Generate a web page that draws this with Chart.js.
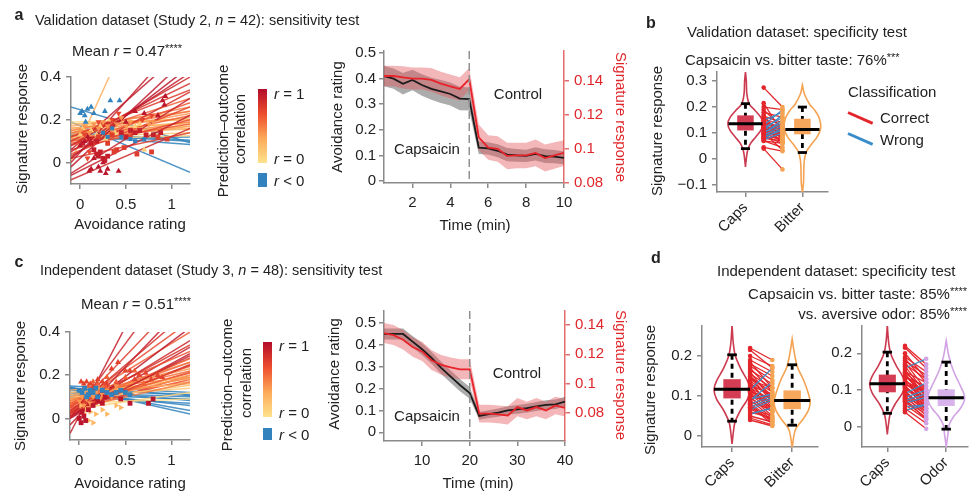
<!DOCTYPE html>
<html>
<head>
<meta charset="utf-8">
<script src="https://cdn.jsdelivr.net/npm/chart.js@4.4.1/dist/chart.umd.min.js"></script>
<style>
body { margin: 0; background: #fff; }
#fig { position: relative; width: 972px; height: 493px; overflow: hidden; font-family: 'Liberation Sans', Arial, sans-serif; color: #222; }
#fig canvas { position: absolute; left: 0; top: 0; }
.t { position: absolute; white-space: nowrap; font-size: 15px; line-height: 1; transform: translateY(-50%); }
.h { font-size: 14.5px; }
.c { transform: translate(-50%, -50%); }
.vl { transform: translate(-50%, -50%) rotate(-90deg); }
.vr { transform: translate(-50%, -50%) rotate(90deg); }
.rt { transform: translate(-100%, -50%); }
.lbl { font-weight: bold; font-size: 16px; }
.red { color: #e0262a; }
sup { font-size: 11px; vertical-align: 4px; line-height: 0; }
.bar { position: absolute; width: 9px; }
.leg { position: absolute; height: 3px; width: 27px; transform-origin: 0 50%; }
</style>
</head>
<body>
<div id="fig">
  <canvas id="aScatter" width="972" height="493"></canvas>
  <canvas id="aTime" width="972" height="493"></canvas>
  <canvas id="bViolin" width="972" height="493"></canvas>
  <canvas id="cScatter" width="972" height="493"></canvas>
  <canvas id="cTime" width="972" height="493"></canvas>
  <canvas id="dLeft" width="972" height="493"></canvas>
  <canvas id="dRight" width="972" height="493"></canvas>

  <!-- panel a -->
  <div class="t c lbl" style="left:19px;top:15px">a</div>
  <div class="t h" style="left:35px;top:20px">Validation dataset (Study 2, <i>n</i> = 42): sensitivity test</div>
  <div class="t" style="left:72px;top:50px">Mean <i>r</i> = 0.47<sup>****</sup></div>
  <div class="t vl" style="left:21px;top:129px">Signature response</div>
  <div class="t c" style="left:130px;top:223px">Avoidance rating</div>
  <div class="t vl" style="left:222px;top:131px">Prediction–outcome</div>
  <div class="t vl" style="left:239px;top:129px">correlation</div>
  <div class="bar" id="aBar" style="left:258px;top:89px;height:74px"></div>
  <div class="bar" style="left:258px;top:173px;height:14px;background:#3182bd"></div>
  <div class="t" style="left:274px;top:93px"><i>r</i> = 1</div>
  <div class="t" style="left:274px;top:158px"><i>r</i> = 0</div>
  <div class="t" style="left:274px;top:180px"><i>r</i> &lt; 0</div>
  <div class="t vl" style="left:336px;top:117px">Avoidance rating</div>
  <div class="t vr red" style="left:621px;top:117px">Signature response</div>
  <div class="t c" style="left:518px;top:93px">Control</div>
  <div class="t c" style="left:427px;top:148px">Capsaicin</div>
  <div class="t c" style="left:475px;top:224px">Time (min)</div>

  <!-- panel b -->
  <div class="t c lbl" style="left:651px;top:23px">b</div>
  <div class="t" style="left:687px;top:31px">Validation dataset: specificity test</div>
  <div class="t" style="left:685px;top:59px">Capsaicin vs. bitter taste: 76%<sup>***</sup></div>
  <div class="t vl" style="left:656px;top:131px">Signature response</div>
  <div class="t" style="left:848px;top:91px">Classification</div>
  <div class="leg" style="left:848px;top:111px;background:#e3262c;transform:rotate(24deg)"></div>
  <div class="t" style="left:880px;top:117px">Correct</div>
  <div class="leg" style="left:848px;top:132px;background:#3a8dc9;transform:rotate(24deg)"></div>
  <div class="t" style="left:880px;top:139px">Wrong</div>

  <!-- panel c -->
  <div class="t c lbl" style="left:19px;top:262px">c</div>
  <div class="t h" style="left:40px;top:270px">Independent dataset (Study 3, <i>n</i> = 48): sensitivity test</div>
  <div class="t" style="left:81px;top:303px">Mean <i>r</i> = 0.51<sup>****</sup></div>
  <div class="t vl" style="left:19px;top:386px">Signature response</div>
  <div class="t c" style="left:130px;top:482px">Avoidance rating</div>
  <div class="t vl" style="left:226px;top:385px">Prediction–outcome</div>
  <div class="t vl" style="left:245px;top:383px">correlation</div>
  <div class="bar" id="cBar" style="left:263px;top:342px;height:75px"></div>
  <div class="bar" style="left:263px;top:428px;height:12px;background:#3182bd"></div>
  <div class="t" style="left:279px;top:345px"><i>r</i> = 1</div>
  <div class="t" style="left:279px;top:412px"><i>r</i> = 0</div>
  <div class="t" style="left:279px;top:434px"><i>r</i> &lt; 0</div>
  <div class="t vl" style="left:333px;top:374px">Avoidance rating</div>
  <div class="t vr red" style="left:621px;top:375px">Signature response</div>
  <div class="t c" style="left:517px;top:372px">Control</div>
  <div class="t c" style="left:427px;top:415px">Capsaicin</div>
  <div class="t c" style="left:478px;top:482px">Time (min)</div>

  <!-- panel d -->
  <div class="t c lbl" style="left:656px;top:258px">d</div>
  <div class="t" style="left:717px;top:270px">Independent dataset: specificity test</div>
  <div class="t rt" style="left:967px;top:293px">Capsaicin vs. bitter taste: 85%<sup>****</sup></div>
  <div class="t rt" style="left:967px;top:313px">vs. aversive odor: 85%<sup>****</sup></div>
  <div class="t vl" style="left:649px;top:390px">Signature response</div>
</div>

<script>
// ==========================================
// DATA
// ==========================================
// a / c: regression line per subject, value at x = -0.1 and at x = 1.2, and the subject's r
const aLineStart = [0.02, 0.05, 0.08, -0.02, 0.10, -0.05, 0.0, 0.12, -0.08, -0.06, 0.04, 0.08, 0.03, 0.06,
  0.12, 0.14, 0.06, 0.10, 0.15, 0.09, 0.02, 0.11,
  0.13, 0.16, 0.10, 0.14, 0.17, 0.12, 0.18, 0.15,
  0.005, 0.14, 0.16, 0.12, 0.19, 0.11,
  0.26, 0.19, 0.13, 0.11, 0.125, 0.14];
const aLineEnd = [0.45, 0.42, 0.40, 0.50, 0.37, 0.30, 0.62, 0.34, 0.16, 0.22, 0.26, 0.28, 0.33, 0.55,
  0.30, 0.24, 0.20, 0.22, 0.26, 0.18, 0.14, 0.19,
  0.23, 0.21, 0.17, 0.19, 0.24, 0.16, 0.20, 0.155,
  1.24, 0.17, 0.18, 0.14, 0.20, 0.125,
  0.093, -0.045, 0.10, 0.12, 0.085, 0.105];
const aLineR = [0.95, 0.9, 0.85, 0.92, 0.8, 0.88, 0.9, 0.75, 0.85, 0.9, 0.7, 0.65, 0.82, 0.93,
  0.6, 0.55, 0.7, 0.6, 0.5, 0.62, 0.75, 0.45,
  0.4, 0.35, 0.38, 0.3, 0.32, 0.28, 0.25, 0.2,
  0.3, 0.1, 0.08, 0.12, 0.05, 0.1,
  -0.3, -0.4, -0.1, -0.05, -0.15, -0.1];

const cLineStart = [-0.07, 0.0, 0.02, -0.03, 0.03, 0.05, 0.0, 0.06,
  0.02, 0.04, 0.07, 0.01, 0.06, 0.08, 0.03, 0.1, 0.05, 0.09,
  0.07, 0.11, 0.04, 0.12, 0.08, 0.1, 0.06, 0.02, 0.09, 0.05,
  0.13, 0.04, 0.07, 0.0, 0.03, 0.08, 0.01, 0.06, 0.03, 0.09,
  0.15, 0.14, 0.13, 0.12, 0.135, 0.145, 0.12, 0.11, 0.1, 0.14];
const cLineEnd = [1.0, 0.75, 0.6, 0.55, 0.5, 0.45, 0.42, 0.40,
  0.36, 0.34, 0.31, 0.29, 0.276, 0.26, 0.245, 0.23, 0.215, 0.2,
  0.19, 0.184, 0.168, 0.16, 0.153, 0.14, 0.21, 0.25, 0.22, 0.18,
  0.19, 0.12, 0.09, 0.3, 0.28, 0.24, 0.33, 0.26, 0.2, 0.17,
  0.12, 0.106, 0.083, 0.06, 0.037, 0.02, 0.1, 0.09, 0.07, 0.11];
const cLineR = [0.9, 0.85, 0.75, 0.9, 0.8, 0.7, 0.95, 0.6,
  0.85, 0.8, 0.65, 0.9, 0.55, 0.5, 0.75, 0.4, 0.6, 0.35,
  0.45, 0.3, 0.5, 0.25, 0.2, 0.15, 0.7, 0.85, 0.55, 0.65,
  0.35, 0.1, 0.05, 0.92, 0.8, 0.5, 0.88, 0.6, 0.7, 0.4,
  -0.1, -0.15, -0.2, -0.25, -0.35, -0.4, -0.1, -0.05, -0.2, -0.1];

// a / c: single trials [avoidance rating, signature response]
const aBlueTri = [[0.0, 0.23], [0.02, 0.24], [0.05, 0.22], [0.08, 0.25], [0.12, 0.26], [0.15, 0.23], [0.27, 0.24], [0.33, 0.29], [0.43, 0.29], [0.06, 0.19]];
const aBlueSq = [[0.25, 0.14], [0.3, 0.12], [0.45, 0.12], [0.55, 0.11], [0.6, 0.1], [0.35, 0.16], [0.7, 0.11]];
const aDarkTri = [[0.1, -0.04], [0.12, -0.03], [0.2, -0.02], [0.22, -0.04], [0.28, -0.05], [0.3, -0.03], [0.42, -0.04], [0.15, 0.02], [0.25, 0.0], [0.05, 0.1], [0.0, 0.08], [0.08, 0.12], [0.5, 0.19], [0.6, 0.24], [0.7, 0.23], [0.85, 0.22], [0.92, 0.27], [0.93, 0.31], [0.9, 0.29]];
const aDarkSq = [[0.15, 0.06], [0.18, 0.04], [0.2, 0.03], [0.22, 0.05], [0.25, 0.02], [0.27, 0.01], [0.3, 0.03], [0.12, 0.09], [0.18, 0.1], [0.55, 0.15], [0.6, 0.14], [0.65, 0.15], [0.72, 0.13], [0.8, 0.13], [0.88, 0.14], [0.5, 0.12], [0.45, 0.14], [0.1, 0.11], [0.03, 0.09]];
const aRedSq = [[0.37, 0.05], [0.4, 0.06], [0.48, 0.07], [0.62, 0.04], [0.78, 0.05], [0.3, 0.09], [0.2, 0.12], [0.35, 0.13], [0.85, 0.12], [0.95, 0.11]];
const aOrangeTri = [[0.0, 0.15], [0.05, 0.17], [0.1, 0.14], [0.15, 0.18], [0.2, 0.16], [0.25, 0.19], [0.3, 0.17], [0.35, 0.15], [0.4, 0.18], [0.5, 0.17], [0.55, 0.19], [0.65, 0.16], [0.75, 0.18], [0.8, 0.19], [0.45, 0.21]];
const aYellowTri = [[0.0, 0.13], [0.03, 0.16], [0.07, 0.12], [0.12, 0.15], [0.18, 0.13], [0.22, 0.17], [0.28, 0.11], [0.32, 0.2], [0.38, 0.14], [0.6, 0.17], [0.7, 0.06], [0.65, 0.18], [0.1, 0.18]];
const aRedTri = [[0.05, 0.13], [0.2, 0.19], [0.35, 0.2], [0.42, 0.23], [0.55, 0.12], [0.68, 0.2], [0.78, 0.22], [0.15, 0.09], [0.1, 0.05], [0.08, 0.02]];

const cBlueSq = [[0.0, 0.13], [0.03, 0.12], [0.06, 0.14], [0.1, 0.11], [0.12, 0.13], [0.15, 0.12], [0.2, 0.1], [0.25, 0.13], [0.3, 0.12], [0.35, 0.11], [0.4, 0.12], [0.45, 0.13], [0.5, 0.12], [0.55, 0.11], [0.08, 0.1], [0.18, 0.14]];
const cRedTri = [[0.02, 0.17], [0.05, 0.16], [0.08, 0.17], [0.12, 0.16], [0.15, 0.15], [0.2, 0.18], [0.25, 0.17], [0.3, 0.16], [0.35, 0.23], [0.42, 0.26], [0.5, 0.22], [0.55, 0.22], [0.65, 0.2], [0.78, 0.18], [0.85, 0.2], [0.9, 0.19], [0.72, 0.21], [0.6, 0.18]];
const cDarkSq = [[0.0, 0.0], [0.02, -0.02], [0.05, 0.01], [0.03, 0.03], [0.07, -0.01], [0.1, 0.04], [0.15, 0.06], [0.2, 0.08], [0.25, 0.07], [0.28, 0.1], [0.45, 0.09], [0.55, 0.07], [0.8, 0.09], [0.75, 0.07]];
const cOrangeTri = [[0.0, 0.08], [0.03, 0.1], [0.05, 0.06], [0.08, 0.09], [0.1, 0.12], [0.12, 0.07], [0.15, 0.1], [0.18, 0.12], [0.22, 0.09], [0.25, 0.11], [0.3, 0.13], [0.35, 0.1], [0.4, 0.15], [0.2, 0.14], [0.1, 0.05]];
const cYellowTri = [[0.05, 0.02], [0.08, 0.04], [0.1, -0.01], [0.15, -0.02], [0.18, 0.02], [0.12, 0.03], [0.25, 0.04], [0.3, 0.02], [0.4, 0.06], [0.45, 0.05], [0.02, 0.06]];
const cRedOrange = [[0.05, 0.14], [0.1, 0.15], [0.15, 0.17], [0.2, 0.16], [0.3, 0.19], [0.28, 0.15], [0.4, 0.17], [0.5, 0.19], [0.6, 0.22], [0.7, 0.16]];

const scatterTicksX = [0, 0.5, 1];
const scatterTicksY = [0, 0.2, 0.4];

// a / c: time courses
const aTime = [0.5, 1, 1.5, 2, 2.5, 3, 3.5, 4, 4.5, 5, 5.5, 6, 6.5, 7, 7.5, 8, 8.5, 9, 9.5, 10];
const aAvoid = [0.41, 0.40, 0.38, 0.395, 0.375, 0.36, 0.35, 0.34, 0.322, 0.32, 0.13, 0.127, 0.118, 0.103, 0.10, 0.098, 0.106, 0.097, 0.095, 0.09];
const aAvoidSe = [0.04, 0.04, 0.042, 0.04, 0.042, 0.043, 0.045, 0.045, 0.046, 0.045, 0.025, 0.024, 0.025, 0.026, 0.025, 0.024, 0.026, 0.027, 0.026, 0.025];
const aSig = [0.1429, 0.1429, 0.1421, 0.1414, 0.1414, 0.1406, 0.1384, 0.1368, 0.1353, 0.1411, 0.1069, 0.1008, 0.1000, 0.0959, 0.0962, 0.0962, 0.0977, 0.0947, 0.0962, 0.0977];
const aSigSe = [0.006, 0.006, 0.0065, 0.0065, 0.0065, 0.007, 0.007, 0.007, 0.0068, 0.0065, 0.0075, 0.0072, 0.0075, 0.0078, 0.0075, 0.0075, 0.0078, 0.008, 0.0078, 0.0075];
const aSwitch = 5;

const cTime = [2, 4, 6, 8, 10, 12, 14, 16, 18, 20, 22, 24, 26, 28, 30, 32, 34, 36, 38, 40];
const cAvoid = [0.45, 0.45, 0.45, 0.415, 0.38, 0.34, 0.295, 0.255, 0.215, 0.18, 0.075, 0.083, 0.09, 0.1, 0.105, 0.11, 0.118, 0.125, 0.128, 0.14];
const cAvoidSe = [0.025, 0.025, 0.025, 0.026, 0.027, 0.027, 0.028, 0.028, 0.028, 0.027, 0.018, 0.018, 0.019, 0.019, 0.02, 0.02, 0.021, 0.021, 0.022, 0.022];
const cSig = [0.1345, 0.1331, 0.1299, 0.1250, 0.1220, 0.1160, 0.1128, 0.1111, 0.1098, 0.1098, 0.0796, 0.0796, 0.0791, 0.0784, 0.0841, 0.0818, 0.0841, 0.0818, 0.0852, 0.0836];
const cSigSe = [0.0068, 0.0068, 0.0066, 0.0066, 0.0066, 0.0067, 0.0067, 0.0068, 0.0068, 0.0068, 0.006, 0.006, 0.006, 0.0062, 0.0062, 0.006, 0.0062, 0.006, 0.006, 0.006];
const cSwitch = 20;

// b / d: per-subject signature responses
const bCaps = [0.275, 0.215, 0.2, 0.19, 0.18, 0.17, 0.165, 0.16, 0.155, 0.15, 0.145, 0.14, 0.14, 0.135, 0.13, 0.13, 0.125, 0.12, 0.12, 0.115, 0.11, 0.105, 0.1, 0.1, 0.095, 0.09, 0.085, 0.08, 0.07, 0.07, 0.045, 0.04, 0.13, 0.11, 0.1, 0.12, 0.09, 0.08, 0.1, 0.075, 0.15, 0.085];
const bBitter = [0.2, 0.1, 0.19, 0.12, 0.16, 0.07, 0.14, 0.1, 0.13, 0.09, 0.12, 0.06, 0.11, 0.125, 0.1, 0.08, 0.115, 0.1, 0.065, 0.11, 0.095, 0.085, 0.07, 0.035, 0.09, 0.06, 0.08, 0.07, 0.06, 0.045, 0.03, -0.04, 0.19, 0.17, 0.15, 0.16, 0.13, 0.12, 0.14, 0.1, 0.18, 0.11];

const dCaps = [0.22, 0.215, 0.2, 0.19, 0.185, 0.18, 0.175, 0.17, 0.165, 0.16, 0.155, 0.15, 0.148, 0.145, 0.14, 0.138, 0.135, 0.13, 0.128, 0.125, 0.122, 0.12, 0.118, 0.115, 0.112, 0.11, 0.108, 0.105, 0.1, 0.098, 0.095, 0.092, 0.09, 0.088, 0.085, 0.082, 0.08, 0.078, 0.075, 0.072, 0.07, 0.068, 0.065, 0.06, 0.055, 0.05, 0.045, 0.04];
const dBitter = [0.19, 0.17, 0.175, 0.16, 0.12, 0.15, 0.14, 0.11, 0.13, 0.09, 0.12, 0.1, 0.085, 0.11, 0.12, 0.095, 0.07, 0.1, 0.08, 0.105, 0.065, 0.09, 0.06, 0.17, 0.08, 0.095, 0.07, 0.06, 0.085, 0.05, 0.06, 0.105, 0.045, 0.135, 0.065, 0.04, 0.1, 0.035, 0.03, 0.095, 0.05, 0.04, 0.09, 0.045, 0.07, 0.035, 0.028, 0.025];
const dOdor = [0.17, 0.16, 0.13, 0.15, 0.12, 0.14, 0.1, 0.13, 0.09, 0.185, 0.08, 0.12, 0.1, 0.07, 0.09, 0.085, 0.11, 0.06, 0.075, 0.09, 0.1, 0.07, 0.08, 0.095, 0.05, 0.065, 0.07, 0.06, 0.08, 0.045, 0.05, 0.04, 0.12, 0.06, 0.03, 0.05, 0.1, 0.04, 0.02, 0.09, 0.035, 0.025, 0.08, 0.02, 0.06, 0.01, 0.06, -0.005];

// violin densities (half width, in category units) and box stats [lo, q1, median, q3, hi]
const bCapsVioY = [-0.03, 0.01, 0.035, 0.06, 0.085, 0.11, 0.136, 0.16, 0.187, 0.21, 0.25, 0.3, 0.335];
const bCapsVioW = [0, 0.02, 0.04, 0.09, 0.18, 0.27, 0.31, 0.27, 0.17, 0.07, 0.025, 0.015, 0];
const bCapsBox = [0.04, 0.11, 0.136, 0.168, 0.213];
const bBitterVioY = [-0.13, -0.09, -0.04, -0.004, 0.028, 0.054, 0.085, 0.117, 0.155, 0.187, 0.21, 0.25, 0.285];
const bBitterVioW = [0, 0.02, 0.025, 0.035, 0.07, 0.15, 0.26, 0.32, 0.3, 0.22, 0.13, 0.035, 0];
const bBitterBox = [0.025, 0.095, 0.114, 0.155, 0.2];

const dCapsVioY = [-0.02, 0.01, 0.035, 0.064, 0.093, 0.117, 0.14, 0.164, 0.198, 0.23, 0.277];
const dCapsVioW = [0, 0.022, 0.05, 0.14, 0.26, 0.3, 0.25, 0.16, 0.06, 0.022, 0];
const dCapsBox = [0.037, 0.094, 0.117, 0.142, 0.203];
const dBitterVioY = [-0.03, -0.003, 0.018, 0.04, 0.064, 0.085, 0.106, 0.14, 0.172, 0.206, 0.243];
const dBitterVioW = [0, 0.025, 0.06, 0.17, 0.27, 0.3, 0.27, 0.19, 0.09, 0.038, 0];
const dBitterBox = [0.027, 0.067, 0.089, 0.114, 0.178];
const dOdorVioY = [-0.054, -0.018, 0.005, 0.027, 0.05, 0.072, 0.09, 0.122, 0.153, 0.19, 0.234];
const dOdorVioW = [0, 0.03, 0.05, 0.12, 0.24, 0.31, 0.3, 0.21, 0.12, 0.048, 0];
const dOdorBox = [-0.006, 0.057, 0.079, 0.102, 0.176];

const bTicksY = [-0.1, 0, 0.1, 0.2, 0.3];
const dTicksY = [0, 0.1, 0.2];

// ==========================================
// STYLE / HELPERS
// ==========================================
const W = 972, H = 493;
Chart.defaults.font.family = "'Liberation Sans', Arial, sans-serif";
Chart.defaults.font.size = 15;
Chart.defaults.color = '#222';
Chart.defaults.animation = false;
Chart.defaults.plugins.legend.display = false;
Chart.defaults.plugins.tooltip.enabled = false;

const AXIS_GREY = '#8a8a8a';
const RED = '#e3262c', BLUE = '#3a8dc9';
const LINE_X0 = -0.1, LINE_X1 = 1.2;
const BOX_HALF = 0.145, MED_HALF = 0.3, CAP_HALF = 0.08;

// colour scale for prediction-outcome correlation
const rStops = [[0, [254, 226, 140]], [0.33, [253, 170, 90]], [0.66, [238, 78, 46]], [1, [178, 12, 42]]];
function rColor(r, alpha) {
    if (r < 0) return `rgba(49,130,189,${alpha})`;
    for (let i = 1; i < rStops.length; i++) {
        if (r <= rStops[i][0]) {
            const [r0, c0] = rStops[i - 1], [r1, c1] = rStops[i];
            const t = (r - r0) / (r1 - r0);
            const c = c0.map((v, k) => Math.round(v + (c1[k] - v) * t));
            return `rgba(${c.join(',')},${alpha})`;
        }
    }
    return `rgba(${rStops[3][1].join(',')},${alpha})`;
}
const gradient = 'linear-gradient(to top, ' + rStops.map(([r, c]) => `rgb(${c.join(',')}) ${r * 100}%`).join(', ') + ')';
document.getElementById('aBar').style.background = gradient;
document.getElementById('cBar').style.background = gradient;

// place the chart area exactly inside a full-size canvas
function pad(area, yW, xH, rW) {
    return { left: area.l - yW, top: area.t, right: W - area.r - rW, bottom: H - area.b - xH };
}

function axis(min, max, ticks, o = {}) {
    const col = o.color || AXIS_GREY;
    return {
        type: 'linear', min, max, position: o.position,
        border: { display: true, color: col, width: 1.5 },
        grid: { drawOnChartArea: false, drawTicks: true, tickLength: 5, color: col, lineWidth: 1.5 },
        ticks: {
            color: o.tickColor || '#222', padding: o.pad ?? 4, autoSkip: false,
            minRotation: o.rot || 0, maxRotation: o.rot || 0,
            callback: o.fmt || (v => String(v).replace('-', '\u2212'))
        },
        afterBuildTicks: s => { s.ticks = ticks.map(v => ({ value: v })); },
        afterFit: s => {
            if (s.isHorizontal()) s.height = o.size; else s.width = o.size;
            s.paddingLeft = s.paddingRight = s.paddingTop = s.paddingBottom = 0;
        }
    };
}

function switchPlugin(at) {
    return {
        id: 'switchLine',
        afterDatasetsDraw(chart) {
            const { ctx, chartArea, scales } = chart;
            const x = scales.x.getPixelForValue(at);
            ctx.save();
            ctx.strokeStyle = '#8f8f8f';
            ctx.lineWidth = 1.5;
            ctx.setLineDash([8, 4]);
            ctx.beginPath();
            ctx.moveTo(x, chartArea.top);
            ctx.lineTo(x, chartArea.bottom);
            ctx.stroke();
            ctx.restore();
        }
    };
}

function boxPlugin(items) {
    return {
        id: 'boxes',
        afterDatasetsDraw(chart) {
            const { ctx, scales: { x, y } } = chart;
            ctx.save();
            items.forEach(it => {
                const [lo, q1, med, q3, hi] = it.stats;
                const cx = x.getPixelForValue(it.x);
                const px = v => x.getPixelForValue(it.x + v) - cx;
                ctx.strokeStyle = '#000';
                ctx.lineWidth = 2.8;
                ctx.setLineDash([5, 4]);
                ctx.beginPath();
                ctx.moveTo(cx, y.getPixelForValue(hi));
                ctx.lineTo(cx, y.getPixelForValue(lo));
                ctx.stroke();
                ctx.setLineDash([]);
                [lo, hi].forEach(v => {
                    const py = y.getPixelForValue(v);
                    ctx.beginPath();
                    ctx.moveTo(cx - px(CAP_HALF), py);
                    ctx.lineTo(cx + px(CAP_HALF), py);
                    ctx.stroke();
                });
                const top = y.getPixelForValue(q3), bot = y.getPixelForValue(q1);
                ctx.fillStyle = it.fill;
                ctx.fillRect(cx - px(BOX_HALF), top, 2 * px(BOX_HALF), bot - top);
                const pm = y.getPixelForValue(med);
                ctx.lineWidth = 3;
                ctx.beginPath();
                ctx.moveTo(cx - px(MED_HALF), pm);
                ctx.lineTo(cx + px(MED_HALF), pm);
                ctx.stroke();
            });
            ctx.restore();
        }
    };
}

// ==========================================
// SCATTER + REGRESSION LINES (a, c)
// ==========================================
function scatterPanel(id, area, starts, ends, rs, groups) {
    const pts = groups.map(g => ({
        data: g.pts.map(([x, y]) => ({ x, y })),
        pointStyle: g.shape, rotation: g.rot || 0, pointRadius: g.size || 3.4,
        backgroundColor: rColor(g.r, 1), borderColor: rColor(g.r, 1), borderWidth: 0
    }));
    const lines = starts.map((s, i) => ({
        data: [{ x: LINE_X0, y: s }, { x: LINE_X1, y: ends[i] }],
        showLine: true, pointRadius: 0, borderWidth: 1.5,
        borderColor: rColor(rs[i], 0.85)
    }));
    new Chart(document.getElementById(id), {
        type: 'scatter',
        data: { datasets: pts.concat(lines) },
        options: {
            responsive: false,
            layout: { padding: pad(area, 45, 35, 0) },
            scales: {
                x: axis(-0.1, 1.2, scatterTicksX, { size: 35, pad: 7 }),
                y: axis(-0.1, 0.4, scatterTicksY, { size: 45, pad: 5 })
            }
        }
    });
}

scatterPanel('aScatter', { l: 71, r: 190, t: 77, b: 184 }, aLineStart, aLineEnd, aLineR, [
    { pts: aBlueTri, r: -0.3, shape: 'triangle' },
    { pts: aBlueSq, r: -0.2, shape: 'rect', size: 2.8 },
    { pts: aDarkTri, r: 0.95, shape: 'triangle' },
    { pts: aDarkSq, r: 0.9, shape: 'rect' },
    { pts: aRedSq, r: 0.75, shape: 'rect' },
    { pts: aRedTri, r: 0.7, shape: 'triangle', rot: 180 },
    { pts: aOrangeTri, r: 0.4, shape: 'triangle', rot: 180 },
    { pts: aYellowTri, r: 0.12, shape: 'triangle' }
]);

scatterPanel('cScatter', { l: 70, r: 190, t: 332, b: 440 }, cLineStart, cLineEnd, cLineR, [
    { pts: cBlueSq, r: -0.2, shape: 'rect' },
    { pts: cRedTri, r: 0.72, shape: 'triangle' },
    { pts: cDarkSq, r: 0.95, shape: 'rect' },
    { pts: cOrangeTri, r: 0.4, shape: 'triangle', rot: 180 },
    { pts: cYellowTri, r: 0.25, shape: 'triangle', rot: 90 },
    { pts: cRedOrange, r: 0.6, shape: 'triangle' }
]);

// ==========================================
// TIME COURSES (a, c)
// ==========================================
function timePanel(id, area, o) {
    const line = m => o.time.map((t, i) => ({ x: t, y: m[i] }));
    const band = (m, se, k) => o.time.map((t, i) => ({ x: t, y: m[i] + k * se[i] }));
    new Chart(document.getElementById(id), {
        type: 'line',
        data: {
            datasets: [
                { data: line(o.sig), yAxisID: 'y2', borderColor: '#e8232a', borderWidth: 1.8, pointRadius: 0 },
                { data: line(o.avoid), yAxisID: 'y', borderColor: '#1b1b1b', borderWidth: 1.8, pointRadius: 0 },
                { data: band(o.sig, o.sigSe, 1), yAxisID: 'y2', borderWidth: 0, pointRadius: 0, fill: false },
                { data: band(o.sig, o.sigSe, -1), yAxisID: 'y2', borderWidth: 0, pointRadius: 0, fill: '-1', backgroundColor: 'rgba(226,82,88,0.42)' },
                { data: band(o.avoid, o.avoidSe, 1), yAxisID: 'y', borderWidth: 0, pointRadius: 0, fill: false },
                { data: band(o.avoid, o.avoidSe, -1), yAxisID: 'y', borderWidth: 0, pointRadius: 0, fill: '-1', backgroundColor: 'rgba(70,70,70,0.45)' }
            ]
        },
        options: {
            responsive: false,
            layout: { padding: pad(area, 45, 35, 45) },
            scales: {
                x: axis(o.xr[0], o.xr[1], o.xt, { size: 35, pad: 6 }),
                y: axis(o.yr[0], o.yr[1], [0, 0.1, 0.2, 0.3, 0.4, 0.5], { size: 45, pad: 3, position: 'left' }),
                y2: axis(o.y2r[0], o.y2r[1], o.y2t, { size: 45, pad: 5, position: 'right', color: '#e36d6d', tickColor: '#e0262a' })
            }
        },
        plugins: [switchPlugin(o.switchAt)]
    });
}

timePanel('aTime', { l: 384, r: 564, t: 51, b: 183 }, {
    time: aTime, avoid: aAvoid, avoidSe: aAvoidSe, sig: aSig, sigSe: aSigSe, switchAt: aSwitch,
    xr: [0.5, 10], xt: [2, 4, 6, 8, 10], yr: [-0.008, 0.508], y2r: [0.08, 0.1576], y2t: [0.08, 0.1, 0.12, 0.14]
});

timePanel('cTime', { l: 384, r: 565, t: 311, b: 441 }, {
    time: cTime, avoid: cAvoid, avoidSe: cAvoidSe, sig: cSig, sigSe: cSigSe, switchAt: cSwitch,
    xr: [2, 40], xt: [10, 20, 30, 40], yr: [-0.04, 0.555], y2r: [0.061, 0.1495], y2t: [0.08, 0.1, 0.12, 0.14]
});

// ==========================================
// VIOLINS WITH PAIRED LINES (b, d)
// ==========================================
function violinPanel(id, area, o) {
    const violins = o.groups.map(g => {
        const right = g.ys.map((y, i) => ({ x: g.c + g.ws[i], y }));
        const left = g.ys.map((y, i) => ({ x: g.c - g.ws[i], y })).reverse();
        return {
            data: right.concat(left), showLine: true, pointRadius: 0, tension: 0.35,
            borderColor: g.line, borderWidth: 1.6
        };
    });
    const pairs = o.a.map((v, i) => ({ a: v, b: o.b[i] }));
    const wrong = pairs.filter(p => p.b >= p.a), right = pairs.filter(p => p.b < p.a);
    const pairLine = (p, col) => ({
        data: [{ x: o.px[0], y: p.a }, { x: o.px[1], y: p.b }],
        showLine: true, pointRadius: 0, borderColor: col, borderWidth: 1.3
    });
    const dots = [
        { data: o.a.map(v => ({ x: o.px[0], y: v })), pointRadius: 2.3, backgroundColor: RED, borderWidth: 0 },
        { data: o.b.map(v => ({ x: o.px[1], y: v })), pointRadius: 2.3, backgroundColor: o.dotB, borderWidth: 0 }
    ];
    new Chart(document.getElementById(id), {
        type: 'scatter',
        data: { datasets: dots.concat(wrong.map(p => pairLine(p, BLUE)), right.map(p => pairLine(p, RED)), violins) },
        options: {
            responsive: false,
            layout: { padding: pad(area, 45, 50, 0) },
            scales: {
                x: axis(o.xr[0], o.xr[1], [1, 2], { size: 50, pad: 2, rot: 45, fmt: v => o.names[Math.round(v) - 1] }),
                y: axis(o.yr[0], o.yr[1], o.yt, { size: 45, pad: 5 })
            }
        },
        plugins: [boxPlugin(o.groups.map(g => ({ x: g.c, stats: g.box, fill: g.fill })))]
    });
}

const CAPS = { line: '#cc3a50', fill: '#d43d53' };
const BITTER = { line: '#f5a352', fill: '#f7a75b' };
const ODOR = { line: '#d1a3e4', fill: '#d8b2ea' };

violinPanel('bViolin', { l: 717, r: 828, t: 72, b: 192 }, {
    xr: [0.5, 2.45], yr: [-0.127, 0.335], yt: bTicksY, names: ['Caps', 'Bitter'],
    a: bCaps, b: bBitter, px: [1.32, 1.65], dotB: BITTER.line,
    groups: [
        { c: 1, ys: bCapsVioY, ws: bCapsVioW, box: bCapsBox, ...CAPS },
        { c: 2, ys: bBitterVioY, ws: bBitterVioW, box: bBitterBox, ...BITTER }
    ]
});

violinPanel('dLeft', { l: 702, r: 818, t: 326, b: 447 }, {
    xr: [0.5, 2.43], yr: [-0.0275, 0.275], yt: dTicksY, names: ['Caps', 'Bitter'],
    a: dCaps, b: dBitter, px: [1.3, 1.67], dotB: BITTER.line,
    groups: [
        { c: 1, ys: dCapsVioY, ws: dCapsVioW, box: dCapsBox, ...CAPS },
        { c: 2, ys: dBitterVioY, ws: dBitterVioW, box: dBitterBox, ...BITTER }
    ]
});

violinPanel('dRight', { l: 862, r: 972, t: 326, b: 447 }, {
    xr: [0.57, 2.37], yr: [-0.0545, 0.274], yt: dTicksY, names: ['Caps', 'Odor'],
    a: dCaps, b: dOdor, px: [1.3, 1.66], dotB: ODOR.line,
    groups: [
        { c: 1, ys: dCapsVioY, ws: dCapsVioW, box: dCapsBox, ...CAPS },
        { c: 2, ys: dOdorVioY, ws: dOdorVioW, box: dOdorBox, ...ODOR }
    ]
});
</script>
</body>
</html>
